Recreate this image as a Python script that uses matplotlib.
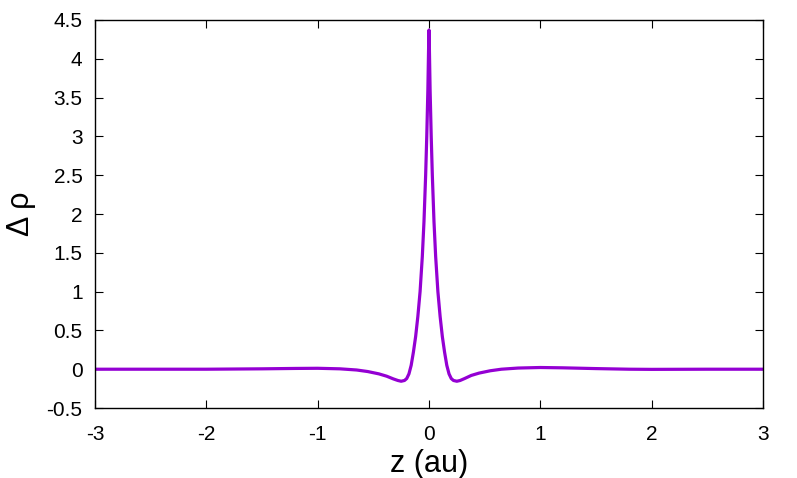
import matplotlib
matplotlib.use("Agg")
import matplotlib.pyplot as plt

# values
z = [-3.0, -2.5, -2.0, -1.5, -1.2, -1.0, -0.8, -0.65, -0.55, -0.45, -0.38,
     -0.32, -0.28, -0.25, -0.22, -0.2, -0.18, -0.16, -0.14, -0.12, -0.1,
     -0.08, -0.06, -0.045, -0.03, -0.02, -0.01, -0.004, 0.0,
     0.004, 0.01, 0.02, 0.03, 0.045, 0.06, 0.08, 0.1, 0.12, 0.14, 0.16,
     0.18, 0.2, 0.22, 0.25, 0.28, 0.32, 0.38, 0.45, 0.55, 0.65, 0.8, 1.0,
     1.2, 1.5, 1.8, 2.0, 2.5, 3.0]
drho = [0.0, 0.0, 0.0, 0.005, 0.01, 0.012, 0.005, -0.01, -0.03, -0.06, -0.09,
        -0.125, -0.145, -0.155, -0.145, -0.12, -0.06, 0.05, 0.22, 0.42, 0.68,
        1.0, 1.45, 1.9, 2.5, 3.0, 3.6, 4.1, 4.37,
        4.1, 3.6, 3.0, 2.5, 1.9, 1.45, 1.0, 0.68, 0.42, 0.22, 0.05,
        -0.06, -0.12, -0.145, -0.155, -0.145, -0.12, -0.08, -0.05, -0.02, 0.0, 0.015, 0.022,
        0.018, 0.008, 0.0, -0.002, 0.0, 0.0]

xticks = [-3, -2, -1, 0, 1, 2, 3]
yticks = [-0.5, 0, 0.5, 1, 1.5, 2, 2.5, 3, 3.5, 4, 4.5]


def main():
    plt.rcParams['font.family'] = ['Liberation Sans', 'DejaVu Sans']
    fig = plt.figure(figsize=(7.97, 4.78), dpi=100)
    ax = fig.add_axes([0.1192, 0.1464, 0.8381, 0.8118])

    ax.plot(z, drho, '-', color='#9400d3', linewidth=2.3)

    ax.set_xlim(-3, 3)
    ax.set_ylim(-0.5, 4.5)
    ax.set_xticks(xticks)
    ax.set_xticklabels([str(t) for t in xticks])
    ax.set_yticks(yticks)
    ax.set_yticklabels(['%g' % t for t in yticks])
    ax.tick_params(direction='in', length=6, width=0.8, top=True, right=True,
                   labelsize=15)
    ax.tick_params(axis='x', pad=12.5)
    ax.tick_params(axis='y', pad=9)
    for s in ax.spines.values():
        s.set_linewidth(1.0)

    ax.set_xlabel('z (au)', fontsize=22)
    ax.set_ylabel('Δ ρ', fontsize=22)
    ax.xaxis.set_label_coords(0.5, -0.105)
    ax.yaxis.set_label_coords(-0.088, 0.5)

    fig.savefig('out.png', dpi=100)


if __name__ == "__main__": main()
